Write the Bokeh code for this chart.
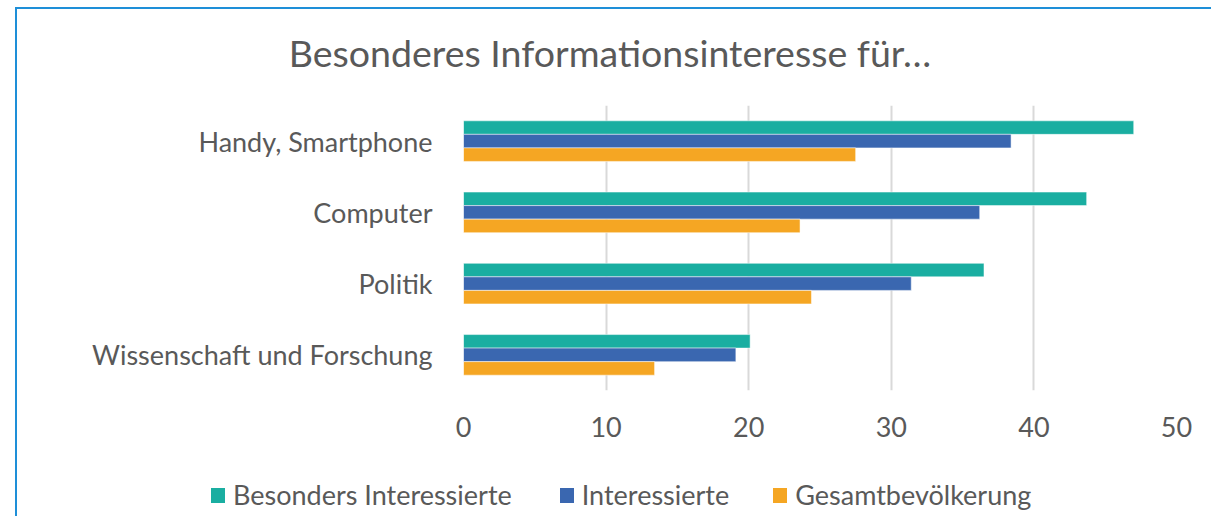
from bokeh.plotting import figure
from bokeh.models import FactorRange, Range1d, FixedTicker, Div
from bokeh.layouts import column
from bokeh.transform import dodge
from bokeh.models import ColumnDataSource
from bokeh.embed import file_html
from bokeh.resources import INLINE

title_text = "Besonderes Informationsinteresse für…"
categories = ["Handy, Smartphone", "Computer", "Politik", "Wissenschaft und Forschung"]
series_names = ["Besonders Interessierte", "Interessierte", "Gesamtbevölkerung"]
besonders = [47.0, 43.7, 36.5, 20.1]
interessierte = [38.4, 36.2, 31.4, 19.1]
gesamt = [27.5, 23.6, 24.4, 13.4]
x_ticks = [0, 10, 20, 30, 40, 50]
colors = ["#1aaea1", "#3a67b0", "#f5a623"]

FONT = "Lato"
TXT = "#595959"

src = ColumnDataSource(dict(cat=categories, b=besonders, i=interessierte, g=gesamt))

title_div = Div(
    text=(
        f'<div style="width:1176px;text-align:center;padding-top:16px;font-family:Lato;'
        f'font-size:37.5px;line-height:45px;color:{TXT};white-space:nowrap;">{title_text}</div>'
    ),
    width=1186, height=71,
)

p = figure(
    width=1186, height=370,
    y_range=FactorRange(*list(reversed(categories)), range_padding=0),
    x_range=Range1d(0, 50),
    output_backend="svg", toolbar_location=None,
    min_border_left=446, min_border_right=27, min_border_top=15, min_border_bottom=70,
)
p.outline_line_color = None

bh = 0.19
for col, off, c in [("b", bh, colors[0]), ("i", 0.0, colors[1]), ("g", -bh, colors[2])]:
    p.hbar(y=dodge("cat", off, range=p.y_range), right=col, left=0, height=bh,
           source=src, fill_color=c, line_color="white", line_alpha=0.5, line_width=1)

p.xaxis.ticker = FixedTicker(ticks=x_ticks)
p.xaxis.axis_line_color = None
p.xaxis.major_tick_line_color = None
p.xaxis.minor_tick_line_color = None
p.xaxis.major_label_standoff = 20
p.xaxis.major_label_text_font = FONT
p.xaxis.major_label_text_font_size = "27px"
p.xaxis.major_label_text_color = TXT

p.yaxis.axis_line_color = None
p.yaxis.major_tick_line_color = None
p.yaxis.minor_tick_line_color = None
p.yaxis.major_label_standoff = 25
p.yaxis.major_label_text_font = FONT
p.yaxis.major_label_text_font_size = "27px"
p.yaxis.major_label_text_color = TXT

p.xgrid.grid_line_color = "#d9d9d9"
p.xgrid.grid_line_width = 2
p.xgrid.ticker = FixedTicker(ticks=x_ticks)
p.ygrid.grid_line_color = None

# legend as HTML (real text)
gaps = ["48px", "44px", "0px"]
items_html = ""
for n, c, mr in zip(series_names, colors, gaps):
    items_html += (
        f'<span style="display:inline-block;width:14px;height:15px;background:{c};'
        f'margin-right:8px;"></span>'
        f'<span style="margin-right:{mr};white-space:nowrap;">{n}</span>'
    )
legend_div = Div(
    text=(
        f'<div style="display:flex;align-items:center;height:32px;margin-top:14px;'
        f'padding-left:189px;font-family:Lato;font-size:27px;color:{TXT};line-height:32px;">'
        f'{items_html}</div>'
    ),
    width=1186, height=46,
)

layout = column(title_div, p, legend_div, spacing=0)
layout.styles = {
    "border-top": "2px solid #1e8fd8",
    "border-left": "2px solid #1e8fd8",
    "border-right": "2px solid #1e8fd8",
    "transform": "translate(15px, 7px)",
}

open("out.html", "w").write(file_html(layout, INLINE))
